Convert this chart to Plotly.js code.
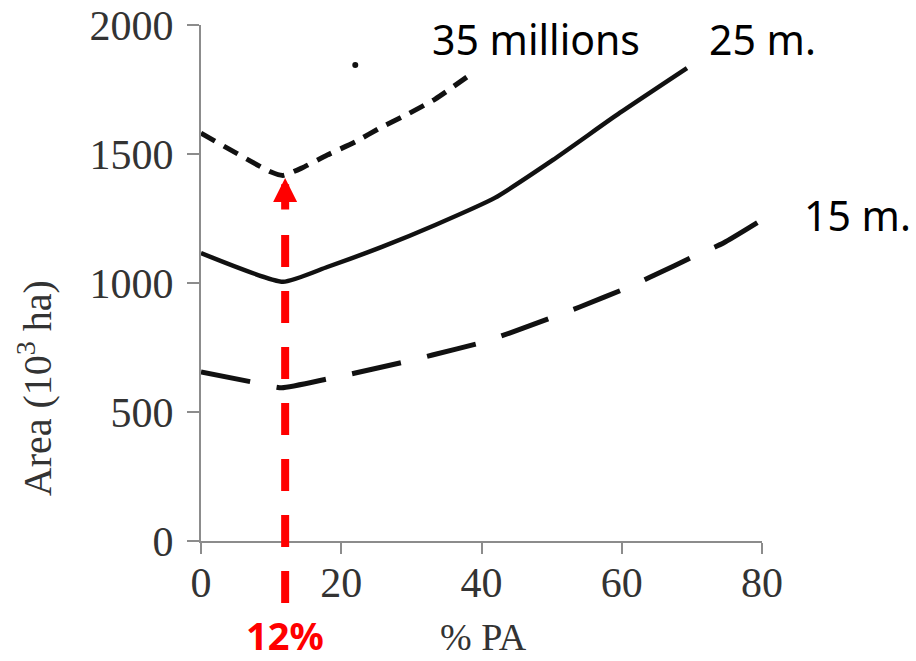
<!DOCTYPE html>
<html>
<head>
<meta charset="utf-8">
<script src="https://cdn.plot.ly/plotly-3.0.1.min.js"></script>
<style>html,body{margin:0;padding:0;background:#fff;}#chart{width:916px;height:661px;}</style>
</head>
<body>
<div id="chart"></div>
<script>
// ---- data ----
var x35 = [0, 10, 11.7, 14.4, 18, 22, 25.8, 29.5, 33.4, 37.9];
var y35 = [1581, 1430, 1417, 1446, 1496, 1547, 1605, 1655, 1713, 1798];
var xDot = [22];
var yDot = [1845];
var x25 = [0, 11.7, 18, 25.8, 33.4, 41.9, 50.2, 59.7, 69.3];
var y25 = [1116, 1005, 1062, 1140, 1225, 1330, 1477, 1659, 1833];
var x15 = [0, 7.3, 11.5, 18, 22, 29, 33, 40, 44, 50, 54, 61, 64, 71, 74.5, 80];
var y15 = [655, 616, 594, 628, 651, 694, 721, 769, 806, 866, 907, 984, 1022, 1112, 1155, 1245];
var xTicks = [0, 20, 40, 60, 80];
var yTicks = [0, 500, 1000, 1500, 2000];
var labels = ["35 millions", "25 m.", "15 m."];
var highlightX = 12;
var highlightY = 1407;

var serif = "Liberation Serif, Times New Roman, serif";
var sans = "Noto Sans, Liberation Sans, sans-serif";

var traces = [
  {x: x35, y: y35, mode: "lines", line: {color: "#111", width: 5, dash: "16px,10px", shape: "spline", smoothing: 0.5}, hoverinfo: "skip"},
  {x: xDot, y: yDot, mode: "markers", marker: {color: "#111", size: 6}, hoverinfo: "skip"},
  {x: x25, y: y25, mode: "lines", line: {color: "#111", width: 4.5, shape: "spline", smoothing: 0.5}, hoverinfo: "skip"},
  {x: x15, y: y15, mode: "lines", line: {color: "#111", width: 5, dash: "50px,27px", shape: "spline", smoothing: 0.5}, hoverinfo: "skip"}
];

var layout = {
  width: 916, height: 661,
  margin: {l: 201, r: 154, t: 25, b: 120, pad: 0},
  paper_bgcolor: "#fff", plot_bgcolor: "#fff",
  showlegend: false,
  xaxis: {
    range: [0, 80], tickvals: xTicks, ticktext: xTicks.map(String),
    showgrid: false, zeroline: false, showline: true, linecolor: "#8c8c8c", linewidth: 2,
    ticks: "outside", ticklen: 11, tickwidth: 2, tickcolor: "#8c8c8c", ticklabelstandoff: -7,
    tickfont: {family: serif, size: 42, color: "#333"}
  },
  yaxis: {
    range: [0, 2000], tickvals: yTicks, ticktext: yTicks.map(String),
    showgrid: false, zeroline: false, showline: true, linecolor: "#8c8c8c", linewidth: 2,
    ticks: "outside", ticklen: 12, tickwidth: 2, tickcolor: "#8c8c8c", ticklabelstandoff: 5,
    tickfont: {family: serif, size: 42, color: "#333"}
  },
  shapes: [
    {type: "line", xref: "x", yref: "paper", x0: highlightX, x1: highlightX, y0: -0.12, y1: 0.6395,
     line: {color: "#ff0000", width: 8, dash: "32px,24px"}}
  ],
  annotations: [
    {xref: "x", yref: "y", x: highlightX, y: highlightY, axref: "x", ayref: "y", ax: highlightX, ay: 1279,
     showarrow: true, arrowhead: 2, arrowsize: 0.6, arrowwidth: 8, arrowcolor: "#ff0000", standoff: 0, text: ""},
    {xref: "x", yref: "y", x: 47.8, y: 1945, xanchor: "center", yanchor: "middle", text: labels[0], showarrow: false,
     font: {family: sans, size: 41, color: "#000"}},
    {xref: "x", yref: "y", x: 80, y: 1945, xanchor: "center", yanchor: "middle", text: labels[1], showarrow: false,
     font: {family: sans, size: 41, color: "#000"}},
    {xref: "paper", yref: "y", x: 1.171, y: 1262, xanchor: "center", yanchor: "middle", text: labels[2], showarrow: false,
     font: {family: sans, size: 41, color: "#000"}},
    {xref: "x", yref: "paper", x: highlightX, y: -0.183, xanchor: "center", yanchor: "middle", text: "<b>12%</b>", showarrow: false,
     font: {family: sans, size: 38, color: "#ff0000"}},
    {xref: "paper", yref: "paper", x: 0.504, y: -0.186, xanchor: "center", yanchor: "middle", text: "% PA", showarrow: false,
     font: {family: serif, size: 38, color: "#333"}},
    {xref: "paper", yref: "paper", x: -0.296, y: 0.296, xanchor: "center", yanchor: "middle", text: "Area (10<sup>3</sup> ha)", textangle: -90, showarrow: false,
     font: {family: serif, size: 40, color: "#333"}}
  ]
};

Plotly.newPlot("chart", traces, layout, {staticPlot: true, displayModeBar: false});
</script>
</body>
</html>
